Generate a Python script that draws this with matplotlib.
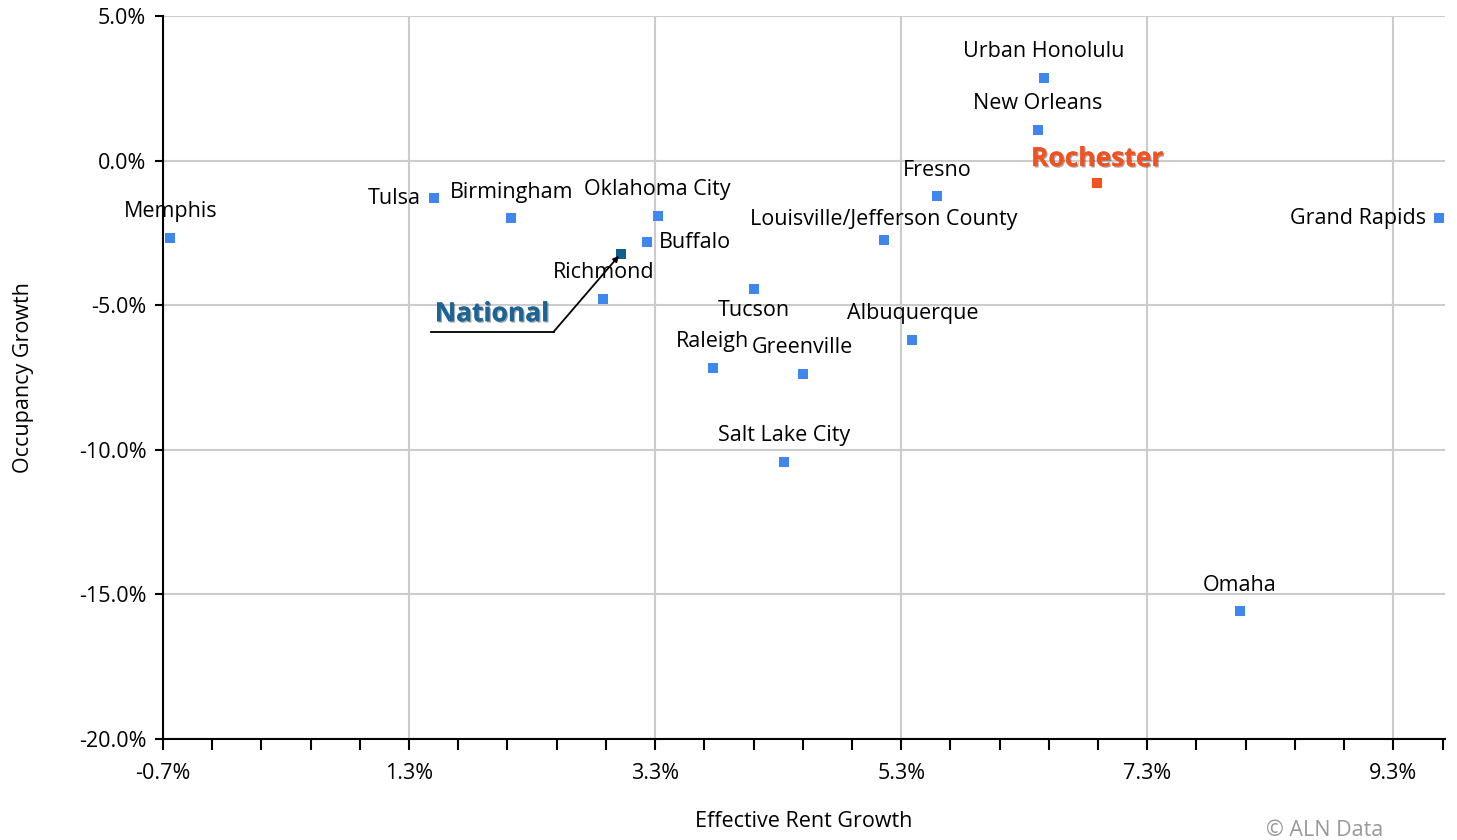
import numpy as np
import matplotlib
matplotlib.use("Agg")
import matplotlib.pyplot as plt
import matplotlib.patheffects as pe
from matplotlib.ticker import FixedLocator, FuncFormatter

plt.rcParams['font.family'] = ['Open Sans', 'DejaVu Sans']

# data (effective rent growth %, occupancy growth %)
cities = ["Memphis", "Tulsa", "Birmingham", "Oklahoma City", "Buffalo", "Richmond",
          "Tucson", "Raleigh", "Greenville", "Salt Lake City", "Albuquerque",
          "Louisville/Jefferson County", "Fresno", "Urban Honolulu", "New Orleans",
          "Grand Rapids", "Omaha"]
rent_growth = [-0.64, 1.50, 2.13, 3.32, 3.23, 2.88, 4.10, 3.77, 4.50, 4.35, 5.39,
               5.16, 5.59, 6.46, 6.41, 9.67, 8.05]
occ_growth = [-2.66, -1.31, -2.00, -1.90, -2.80, -4.77, -4.43, -7.16, -7.37, -10.41,
              -6.19, -2.73, -1.24, 2.87, 1.07, -2.00, -15.59]
# label placement: a=above, b=below, l=left, r=right
label_pos = ["a", "l", "a", "a", "r", "a", "b", "a", "a", "a", "a",
             "a", "a", "a", "a", "l", "a"]

national_rent, national_occ = 3.02, -3.22
rochester_rent, rochester_occ = 6.89, -0.76

x_major = [-0.7, 1.3, 3.3, 5.3, 7.3, 9.3]
y_major = [5.0, 0.0, -5.0, -10.0, -15.0, -20.0]

fig = plt.figure(figsize=(14.57, 8.4), dpi=100)
ax = fig.add_axes([163 / 1457, 1 - 739 / 840, (1445 - 163) / 1457, (739 - 16) / 840])

blue = "#3f87ec"
ax.scatter(rent_growth, occ_growth, marker="s", s=50, color=blue, zorder=3, linewidths=0)
ax.scatter([national_rent], [national_occ], marker="s", s=50, color="#0e5f8c", zorder=3, linewidths=0)
ax.scatter([rochester_rent], [rochester_occ], marker="s", s=50, color="#f4511e", zorder=3, linewidths=0)

offsets = {"a": ((0, 26), "center", "center"),
           "b": ((0, -22), "center", "center"),
           "l": ((-13, 0), "right", "center"),
           "r": ((12, -1), "left", "center")}
for name, x, y, p in zip(cities, rent_growth, occ_growth, label_pos):
    off, ha, va = offsets[p]
    if name.startswith("Louisville"):
        off = (0, 20)
    ax.annotate(name, (x, y), xytext=off, textcoords="offset pixels",
                ha=ha, va=va, fontsize=15.5, color="black", zorder=4)

shadow = [pe.withSimplePatchShadow(offset=(1, -1), shadow_rgbFace="black", alpha=0.35), pe.Normal()]
ax.annotate("Rochester", (rochester_rent, rochester_occ), xytext=(0, 24),
            textcoords="offset pixels", ha="center", va="center", fontsize=19,
            fontweight="bold", color="#f4511e", path_effects=shadow, zorder=4)

# National call-out: leader line with a kink, label above the horizontal part
px_x, px_y = 123.0, 28.92  # pixels per 1% on each axis
kink_x = national_rent - 67 / px_x
kink_y = national_occ - 78 / px_y
start_x = national_rent - 190 / px_x
ax.plot([start_x, kink_x], [kink_y, kink_y], color="black", lw=1.3, zorder=3)
ax.annotate("", xy=(national_rent, national_occ), xytext=(kink_x, kink_y),
            arrowprops=dict(arrowstyle="-|>", color="black", lw=1.3,
                            mutation_scale=8, shrinkA=0, shrinkB=2), zorder=3)
ax.text(start_x + 4 / px_x, kink_y + 18 / px_y, "National", ha="left", va="center",
        fontsize=19, fontweight="bold", color="#1a6496", path_effects=shadow, zorder=4)

ax.set_xlim(-0.7, 9.72)
ax.set_ylim(-20, 5)
ax.xaxis.set_major_locator(FixedLocator(x_major))
ax.xaxis.set_minor_locator(FixedLocator(np.arange(-0.7, 9.75, 0.4)))
ax.yaxis.set_major_locator(FixedLocator(y_major))
pct = FuncFormatter(lambda v, _: f"{v:.1f}%")
ax.xaxis.set_major_formatter(pct)
ax.yaxis.set_major_formatter(pct)

ax.grid(True, which="major", color="#cccccc", lw=1.5, zorder=0)
for s in ["top", "right"]:
    ax.spines[s].set_visible(False)
for s in ["left", "bottom"]:
    ax.spines[s].set_linewidth(1.5)
    ax.spines[s].set_color("black")
ax.tick_params(axis="x", which="both", length=8, width=1.5, labelsize=15.5, pad=9)
ax.tick_params(axis="y", which="major", length=6, width=1.5, labelsize=15.5, pad=6)

ax.set_xlabel("Effective Rent Growth", fontsize=15.5, labelpad=20)
ax.set_ylabel("Occupancy Growth", fontsize=15.5, labelpad=32)
fig.text(1325 / 1457, 1 - 831 / 840, "© ALN Data", ha="center", va="center",
         fontsize=15.5, color="#999999")

fig.savefig("out.png", dpi=100)
